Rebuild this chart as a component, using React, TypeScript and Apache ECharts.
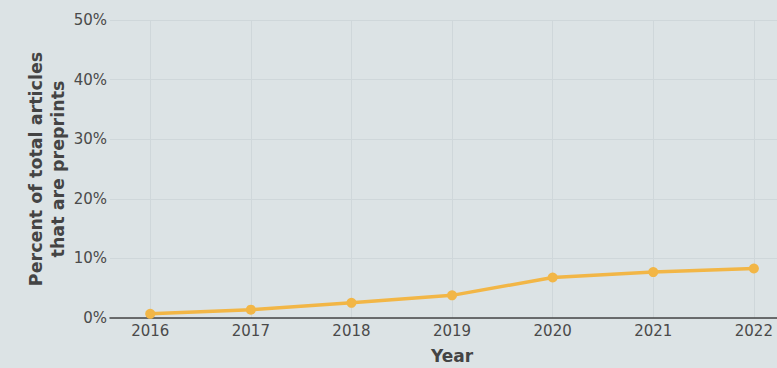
import React, { useEffect, useRef } from "react";
import * as echarts from "echarts";

const years = [2016, 2017, 2018, 2019, 2020, 2021, 2022];
const percentPreprints = [0.7, 1.4, 2.55, 3.8, 6.8, 7.7, 8.3];
const yTicks = [0, 10, 20, 30, 40, 50];

export default function App() {
  const ref = useRef<HTMLDivElement>(null);
  useEffect(() => {
    const chart = echarts.init(ref.current!, null, { renderer: "svg" });
    const font = "'DejaVu Sans', Verdana, sans-serif";
    chart.setOption({
      animation: false,
      backgroundColor: "#dce3e5",
      grid: { left: 110, right: 0, top: 20, bottom: 50 },
      xAxis: {
        type: "value",
        min: 2015.6,
        max: 2022.23,
        axisLine: { show: true, lineStyle: { color: "#444", width: 1.5 } },
        axisTick: { show: false, customValues: years },
        axisLabel: {
          customValues: years,
          color: "#4a4a4a",
          fontSize: 15,
          fontFamily: font,
          margin: 5,
          formatter: (v: number) => String(v),
        },
        splitLine: { show: true, lineStyle: { color: "#cfd7da", width: 1 } },
      },
      yAxis: {
        type: "value",
        min: yTicks[0],
        max: yTicks[yTicks.length - 1],
        interval: 10,
        name: "Percent of total articles\nthat are preprints",
        nameLocation: "middle",
        nameGap: 41,
        nameMoveOverlap: false,
        nameTextStyle: {
          color: "#444",
          fontSize: 17.5,
          fontWeight: "bold",
          fontFamily: font,
          lineHeight: 22,
        },
        axisLine: { show: false },
        axisTick: { show: false },
        axisLabel: {
          color: "#4a4a4a",
          fontSize: 15,
          fontFamily: font,
          margin: 3,
          formatter: "{value}%",
        },
        splitLine: { show: true, lineStyle: { color: "#cfd7da", width: 1 } },
      },
      graphic: [
        {
          type: "text",
          left: 431,
          top: 347,
          style: {
            text: "Year",
            fill: "#444",
            font: "bold 17px 'DejaVu Sans', Verdana, sans-serif",
          },
        },
      ],
      series: [
        {
          type: "line",
          data: years.map((y, i) => [y, percentPreprints[i]]),
          lineStyle: { color: "#f2b646", width: 3.5 },
          itemStyle: { color: "#f2b646" },
          symbol: "circle",
          symbolSize: 10,
          z: 3,
        },
      ],
    });
    return () => chart.dispose();
  }, []);
  return (
    <div
      ref={ref}
      style={{ position: "absolute", left: 0, top: 0, width: 777, height: 368 }}
    />
  );
}
